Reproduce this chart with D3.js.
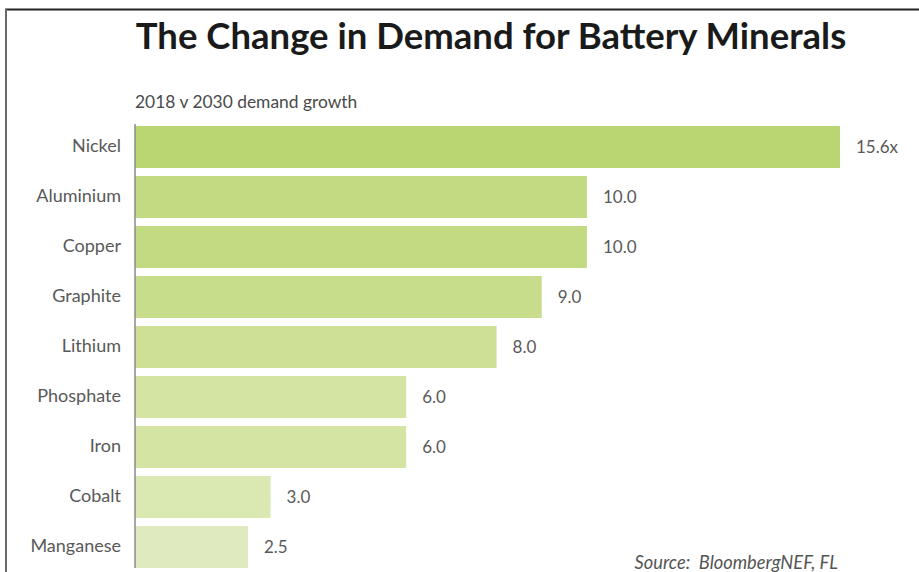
<!DOCTYPE html>
<html>
<head>
<meta charset="utf-8">
<script src="https://cdn.jsdelivr.net/npm/d3@7"></script>
<style>
  body { margin: 0; background: #fff; }
  svg { display: block; font-family: Lato, "Open Sans", sans-serif; }
</style>
</head>
<body>
<div id="chart"></div>
<script>
// data
var minerals = ["Nickel", "Aluminium", "Copper", "Graphite", "Lithium", "Phosphate", "Iron", "Cobalt", "Manganese"];
var growth = [15.6, 10.0, 10.0, 9.0, 8.0, 6.0, 6.0, 3.0, 2.5];
var valueLabels = ["15.6x", "10.0", "10.0", "9.0", "8.0", "6.0", "6.0", "3.0", "2.5"];

// bar shades, darkest at top
var shades = ["#b9d673", "#c2da81", "#c2da81", "#c8dd8c", "#cde096", "#d4e5a3", "#d4e5a3", "#dae8b2", "#dfebbe"];

var width = 919, height = 572;
var x0 = 135, yTop = 122;

var svg = d3.select("#chart").append("svg")
    .attr("width", width)
    .attr("height", height);

// frame lines
svg.append("line")
    .attr("x1", 5).attr("x2", width).attr("y1", 9.5).attr("y2", 9.5)
    .style("stroke", "#222").style("stroke-width", 2);
svg.append("line")
    .attr("x1", 6).attr("x2", 6).attr("y1", 9).attr("y2", height)
    .style("stroke", "#6a6a6a").style("stroke-width", 2);

var x = d3.scaleLinear().domain([0, 15.6]).range([x0, 840]);
var y = d3.scaleBand().domain(minerals).range([yTop, yTop + 50 * minerals.length]).paddingInner(0.16).paddingOuter(0.08);

var rows = minerals.map(function (m, i) { return { name: m, v: growth[i], label: valueLabels[i], i: i }; });

// bars
svg.selectAll("rect.bar")
  .data(rows)
  .enter()
  .append("rect")
    .attr("class", "bar")
    .attr("x", x(0))
    .attr("y", function (d) { return y(d.name); })
    .attr("width", function (d) { return x(d.v) - x(0); })
    .attr("height", y.bandwidth())
    .style("fill", function (d) { return shades[d.i]; });

// category axis
var yAxis = svg.append("g")
    .attr("transform", "translate(" + x0 + ",0)")
    .call(d3.axisLeft(y).tickSize(0).tickPadding(14));
yAxis.attr("font-family", null).attr("font-size", null);
yAxis.select(".domain").style("stroke", "#8a8a8a").style("stroke-width", 1.5)
    .attr("d", "M0," + (yTop + 2) + "V" + 568);
yAxis.selectAll("text")
    .attr("dy", "0.28em")
    .style("font-size", "18px")
    .style("fill", "#595959");

// value labels
svg.selectAll("text.val")
  .data(rows)
  .enter()
  .append("text")
    .attr("class", "val")
    .attr("x", function (d) { return x(d.v) + 16; })
    .attr("y", function (d) { return y(d.name) + y.bandwidth() / 2; })
    .attr("dy", "0.33em")
    .style("font-size", "17px")
    .style("fill", "#595959")
    .text(function (d) { return d.label; });

// title
svg.append("text")
    .attr("x", 491)
    .attr("y", 49)
    .attr("text-anchor", "middle")
    .style("font-size", "36.5px")
    .style("font-weight", "bold")
    .style("fill", "#1a1a1a")
    .text("The Change in Demand for Battery Minerals");

svg.append("text")
    .attr("x", 135)
    .attr("y", 108)
    .style("font-size", "17.4px")
    .style("fill", "#4a4a4a")
    .text("2018 v 2030 demand growth");

svg.append("text")
    .attr("x", 838)
    .attr("y", 569)
    .attr("text-anchor", "end")
    .style("font-size", "18.3px")
    .style("font-style", "italic")
    .style("fill", "#555")
    .style("white-space", "pre")
    .text("Source:  BloombergNEF, FL");
</script>
</body>
</html>
